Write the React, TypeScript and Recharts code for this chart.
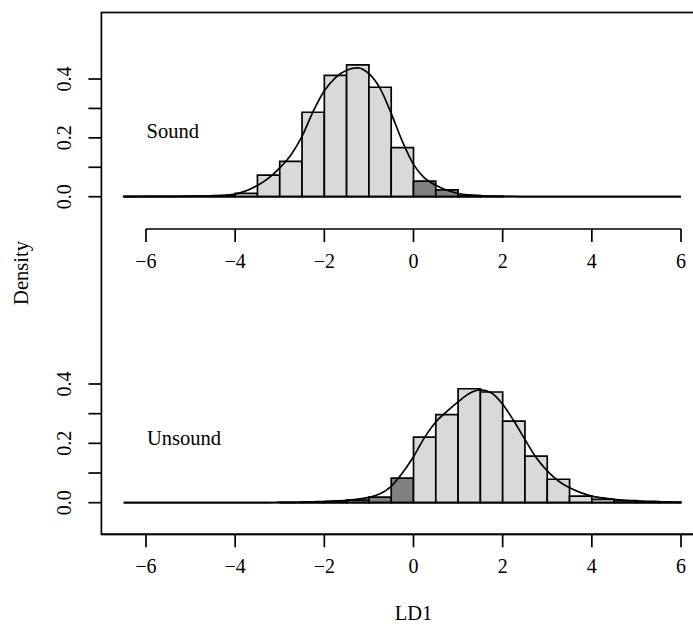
import React from "react";
import {
  ComposedChart,
  Line,
  XAxis,
  YAxis,
  ReferenceArea,
  ReferenceLine,
} from "recharts";

// histogram breaks (bin width 0.5)
const breaks = [
  -6.5, -6, -5.5, -5, -4.5, -4, -3.5, -3, -2.5, -2, -1.5, -1, -0.5, 0, 0.5, 1,
  1.5, 2, 2.5, 3, 3.5, 4, 4.5, 5, 5.5, 6,
];

// bin densities, one per bin
const soundHist = [
  0.001, 0.001, 0.001, 0.002, 0.004, 0.011, 0.073, 0.12, 0.287, 0.412, 0.448,
  0.372, 0.167, 0.053, 0.023, 0.004, 0.002, 0, 0, 0, 0, 0, 0, 0, 0,
];
const unsoundHist = [
  0, 0, 0, 0, 0, 0, 0, 0.001, 0.002, 0.004, 0.009, 0.019, 0.083, 0.221, 0.297,
  0.384, 0.373, 0.275, 0.157, 0.079, 0.022, 0.011, 0.007, 0.004, 0.002,
];

// density curves
const curveX = [
  -6.5, -6.25, -6, -5.75, -5.5, -5.25, -5, -4.75, -4.5, -4.25, -4, -3.75, -3.5,
  -3.25, -3, -2.75, -2.5, -2.25, -2, -1.75, -1.5, -1.25, -1, -0.75, -0.5, -0.25,
  0, 0.25, 0.5, 0.75, 1, 1.25, 1.5, 1.75, 2, 2.25, 2.5, 2.75, 3, 3.25, 3.5,
  3.75, 4, 4.25, 4.5, 4.75, 5, 5.25, 5.5, 5.75, 6,
];
const soundCurve = [
  0.0005, 0.0005, 0.001, 0.001, 0.001, 0.0015, 0.002, 0.002, 0.003, 0.005,
  0.009, 0.02, 0.038, 0.063, 0.098, 0.142, 0.205, 0.29, 0.36, 0.405, 0.43,
  0.438, 0.418, 0.368, 0.283, 0.188, 0.11, 0.063, 0.039, 0.022, 0.011, 0.006,
  0.003, 0.002, 0.001, 0.001, 0, 0, 0, 0, 0, 0, 0, 0, 0, 0, 0, 0, 0, 0, 0,
];
const unsoundCurve = [
  0, 0, 0, 0, 0, 0, 0, 0, 0, 0, 0, 0, 0.0005, 0.0005, 0.001, 0.001, 0.002,
  0.003, 0.004, 0.006, 0.008, 0.012, 0.018, 0.03, 0.055, 0.1, 0.155, 0.22,
  0.272, 0.308, 0.34, 0.368, 0.38, 0.37, 0.332, 0.276, 0.213, 0.152, 0.107,
  0.073, 0.05, 0.034, 0.022, 0.016, 0.011, 0.008, 0.006, 0.004, 0.003, 0.002,
  0.001,
];

const xTicks = [-6, -4, -2, 0, 2, 4, 6];
const yTicks = [0, 0.1, 0.2, 0.3, 0.4];
const yTickLabels = ["0.0", "", "0.2", "", "0.4"];

const FONT = '"Liberation Serif", "Times New Roman", serif';
const LIGHT = "#d9d9d9";
const DARK = "#808080";
const LW = 1.7;

const CHART_W = 760;
const PLOT_LEFT = 101.4;
const PLOT_RIGHT = 725.6;

const fmtX = (v: number) => (v < 0 ? `\u2212${Math.abs(v)}` : String(v));

const XTick = (props: any) => {
  const { x, y, payload } = props;
  return (
    <text
      x={x}
      y={y + 14}
      textAnchor="middle"
      fontSize={20}
      fontFamily={FONT}
      fill="#000"
    >
      {fmtX(payload.value)}
    </text>
  );
};

const YTick = (props: any) => {
  const { x, y, payload } = props;
  const i = yTicks.indexOf(payload.value);
  const label = i >= 0 ? yTickLabels[i] : "";
  return (
    <text
      x={x}
      y={y}
      transform={`rotate(-90, ${x}, ${y})`}
      textAnchor="middle"
      fontSize={20}
      fontFamily={FONT}
      fill="#000"
    >
      {label}
    </text>
  );
};

interface PanelProps {
  hist: number[];
  curve: number[];
  plotTop: number;
  plotBottom: number;
  zeroY: number;
  y04: number;
  darkRight: boolean;
  fullAxisLine: boolean;
}

const Panel = ({
  hist,
  curve,
  plotTop,
  plotBottom,
  zeroY,
  y04,
  darkRight,
  fullAxisLine,
}: PanelProps) => {
  const pxPerUnit = (zeroY - y04) / 0.4;
  const yMax = (zeroY - plotTop) / pxPerUnit;
  const yMin = -(plotBottom - zeroY) / pxPerUnit;
  const data = curveX.map((x, i) => ({ x, y: curve[i] }));
  const xAxisH = 70;

  return (
    <div style={{ position: "absolute", left: 0, top: 0 }}>
      <ComposedChart
        width={CHART_W}
        height={plotBottom + xAxisH}
        data={data}
        margin={{ top: plotTop, right: CHART_W - PLOT_RIGHT, bottom: 0, left: 0 }}
      >
        <XAxis
          type="number"
          dataKey="x"
          domain={[-7, 7]}
          ticks={xTicks}
          allowDataOverflow
          height={xAxisH}
          stroke="#000"
          strokeWidth={LW}
          axisLine={fullAxisLine}
          tickSize={13}
          tickMargin={12}
          tick={<XTick />}
        />
        <YAxis
          type="number"
          domain={[yMin, yMax]}
          ticks={yTicks}
          allowDataOverflow
          width={PLOT_LEFT}
          stroke="#000"
          strokeWidth={LW}
          axisLine={false}
          tickSize={13}
          tickMargin={17}
          tick={<YTick />}
        />
        {!fullAxisLine && (
          <ReferenceLine
            segment={[
              { x: xTicks[0], y: yMin },
              { x: xTicks[xTicks.length - 1], y: yMin },
            ]}
            stroke="#000"
            strokeWidth={LW}
            ifOverflow="visible"
          />
        )}
        <ReferenceLine
          segment={[
            { x: breaks[0], y: 0 },
            { x: breaks[breaks.length - 1], y: 0 },
          ]}
          stroke="#000"
          strokeWidth={LW}
          ifOverflow="visible"
        />
        {hist.map((d, i) => {
          const lo = breaks[i];
          const hi = breaks[i + 1];
          const dark = darkRight ? lo >= 0 : hi <= 0;
          if (d <= 0) return null;
          return (
            <ReferenceArea
              key={i}
              x1={lo}
              x2={hi}
              y1={0}
              y2={d}
              fill={dark ? DARK : LIGHT}
              fillOpacity={1}
              stroke="#000"
              strokeWidth={LW}
              strokeOpacity={1}
              ifOverflow="visible"
            />
          );
        })}
        <Line
          type="monotone"
          dataKey="y"
          stroke="#000"
          strokeWidth={LW}
          dot={false}
          activeDot={false}
          isAnimationActive={false}
        />
      </ComposedChart>
    </div>
  );
};

export default function App() {
  return (
    <div
      style={{
        position: "absolute",
        left: 0,
        top: 0,
        width: 693,
        height: 625,
        overflow: "hidden",
        background: "#fff",
        fontFamily: FONT,
      }}
    >
      <Panel
        hist={soundHist}
        curve={soundCurve}
        plotTop={12.5}
        plotBottom={229}
        zeroY={196.7}
        y04={79}
        darkRight={true}
        fullAxisLine={false}
      />
      <Panel
        hist={unsoundHist}
        curve={unsoundCurve}
        plotTop={300}
        plotBottom={534.3}
        zeroY={502.7}
        y04={384}
        darkRight={false}
        fullAxisLine={true}
      />
      <svg
        width={693}
        height={625}
        style={{ position: "absolute", left: 0, top: 0, pointerEvents: "none" }}
      >
        <rect
          x={PLOT_LEFT}
          y={12.5}
          width={PLOT_RIGHT - PLOT_LEFT}
          height={534.3 - 12.5}
          fill="none"
          stroke="#000"
          strokeWidth={LW}
        />
        <text x={146.5} y={138} fontSize={20.5} fontFamily={FONT} fill="#000">
          Sound
        </text>
        <text x={147} y={445} fontSize={20.5} fontFamily={FONT} fill="#000">
          Unsound
        </text>
        <text
          x={413.5}
          y={620}
          fontSize={20.5}
          textAnchor="middle"
          fontFamily={FONT}
          fill="#000"
        >
          LD1
        </text>
        <text
          x={28}
          y={273}
          transform="rotate(-90, 28, 273)"
          fontSize={20.5}
          textAnchor="middle"
          fontFamily={FONT}
          fill="#000"
        >
          Density
        </text>
      </svg>
    </div>
  );
}
